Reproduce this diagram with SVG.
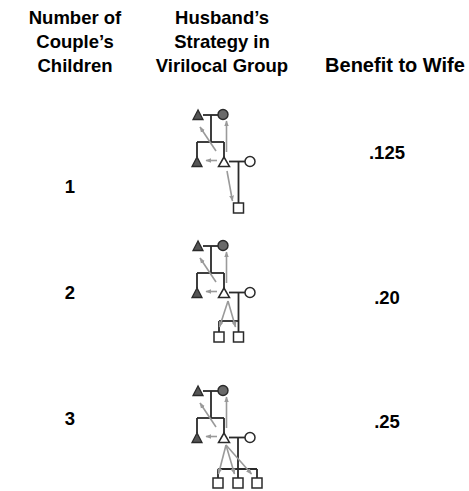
<svg xmlns="http://www.w3.org/2000/svg" width="469" height="491" viewBox="0 0 469 491">
<defs>
<style>
.hd{font-family:"Liberation Sans",Arial,sans-serif;font-weight:bold;font-size:18.5px;fill:#000;}
.num{font-family:"Liberation Sans",Arial,sans-serif;font-weight:bold;font-size:18.5px;fill:#000;}
.ln{stroke:#2a2a2a;stroke-width:1.8;fill:none;}
.fm{fill:#555;stroke:#2a2a2a;stroke-width:1.3;}
.fc{fill:#6a6a6a;stroke:#2a2a2a;stroke-width:1.4;}
.op{fill:#fff;stroke:#2a2a2a;stroke-width:1.5;}
.ar{stroke:#9a9a9a;stroke-width:1.6;fill:none;marker-end:url(#ah);}
</style>
<marker id="ah" viewBox="0 0 10 10" refX="9" refY="5" markerWidth="6" markerHeight="6" orient="auto" markerUnits="userSpaceOnUse">
<path d="M0,1 L10,5 L0,9 z" fill="#9a9a9a"/>
</marker>
<g id="parents">
<line class="ln" x1="203" y1="115" x2="218" y2="115"/>
<line class="ln" x1="211" y1="115" x2="211" y2="142"/>
<line class="ln" x1="197" y1="142" x2="224" y2="142"/>
<line class="ln" x1="197" y1="142" x2="197" y2="157"/>
<line class="ln" x1="224" y1="142" x2="224" y2="157"/>
<line class="ln" x1="229" y1="161.5" x2="245" y2="161.5"/>
<polygon class="fm" points="198,110 193,119.5 203,119.5"/>
<circle class="fc" cx="223" cy="114.5" r="5"/>
<polygon class="fm" points="197,157 192,166.5 202,166.5"/>
<polygon class="op" points="224,157 218.5,166.5 229.5,166.5"/>
<circle class="op" cx="250" cy="161.5" r="5"/>
<line class="ar" x1="216" y1="151" x2="200" y2="127"/>
<line class="ar" x1="226.5" y1="152" x2="226.5" y2="121"/>
<line class="ar" x1="217" y1="160.5" x2="206" y2="160.5"/>
</g>
</defs>

<g id="header">
<text class="hd" x="75" y="24" text-anchor="middle">Number of</text>
<text class="hd" x="75" y="48" text-anchor="middle">Couple’s</text>
<text class="hd" x="75" y="72" text-anchor="middle">Children</text>
<text class="hd" x="222" y="24" text-anchor="middle">Husband’s</text>
<text class="hd" x="222" y="48" text-anchor="middle">Strategy in</text>
<text class="hd" x="222" y="72" text-anchor="middle">Virilocal Group</text>
<text class="hd" x="395" y="72" text-anchor="middle" style="font-size:20px">Benefit to Wife</text>
</g>

<g id="row1">
<text class="num" x="70" y="193" text-anchor="middle">1</text>
<text class="num" x="387" y="159" text-anchor="middle">.125</text>
<g id="pedigree1">
<use href="#parents"/>
<g id="connectors1">
<line class="ln" x1="238.5" y1="161.5" x2="238.5" y2="203"/>
<line class="ar" x1="227" y1="171" x2="232.5" y2="201"/>
</g>
<rect class="op" x="233.5" y="203" width="10" height="10"/>
</g>
</g>

<g id="row2">
<text class="num" x="70" y="299" text-anchor="middle">2</text>
<text class="num" x="387" y="304" text-anchor="middle">.20</text>
<g id="pedigree2" transform="translate(0,131)">
<use href="#parents"/>
<g id="connectors2">
<line class="ln" x1="238.5" y1="161.5" x2="238.5" y2="201"/>
<line class="ln" x1="219" y1="190" x2="238.5" y2="190"/>
<line class="ln" x1="219" y1="190" x2="219" y2="201"/>
<line class="ar" x1="228" y1="170" x2="219.5" y2="196"/>
<line class="ar" x1="228" y1="170" x2="235.5" y2="196"/>
</g>
<rect class="op" x="214" y="201" width="10" height="10"/>
<rect class="op" x="233.5" y="201" width="10" height="10"/>
</g>
</g>

<g id="row3">
<text class="num" x="70" y="425" text-anchor="middle">3</text>
<text class="num" x="387" y="428" text-anchor="middle">.25</text>
<g id="pedigree3" transform="translate(0,276)">
<use href="#parents"/>
<g id="connectors3">
<line class="ln" x1="238" y1="161.5" x2="238" y2="202"/>
<line class="ln" x1="218" y1="193" x2="257" y2="193"/>
<line class="ln" x1="218" y1="193" x2="218" y2="202"/>
<line class="ln" x1="257" y1="193" x2="257" y2="202"/>
<line class="ar" x1="226" y1="169" x2="218.5" y2="198"/>
<line class="ar" x1="226" y1="169" x2="234.5" y2="198"/>
<line class="ar" x1="226" y1="169" x2="251.5" y2="198"/>
</g>
<rect class="op" x="213" y="202" width="10" height="10"/>
<rect class="op" x="233" y="202" width="10" height="10"/>
<rect class="op" x="252" y="202" width="10" height="10"/>
</g>
</g>
</svg>
